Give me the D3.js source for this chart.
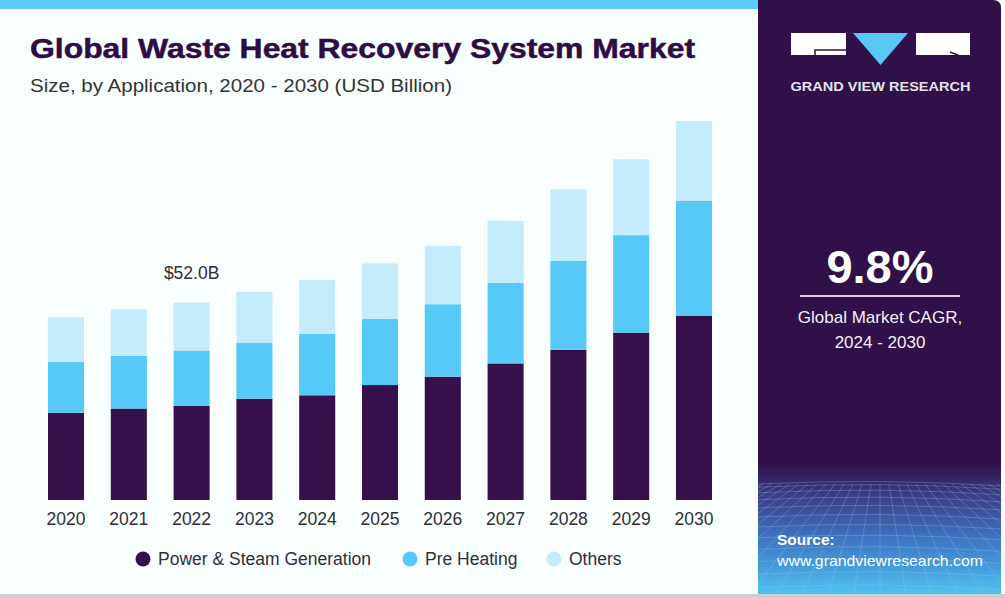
<!DOCTYPE html>
<html>
<head>
<meta charset="utf-8">
<script src="https://cdnjs.cloudflare.com/ajax/libs/d3/7.8.5/d3.min.js"></script>
<style>
  body { margin: 0; background: #fff; }
  text { font-family: "Liberation Sans", Arial, sans-serif; }
</style>
</head>
<body>
<div id="chart"></div>
<script>
var years = ["2020", "2021", "2022", "2023", "2024", "2025", "2026", "2027", "2028", "2029", "2030"];
var power = [23.0, 24.1, 24.8, 26.7, 27.6, 30.3, 32.5, 36.0, 39.6, 44.1, 48.5];
var preHeating = [13.4, 13.9, 14.6, 14.8, 16.2, 17.4, 19.1, 21.2, 23.5, 25.7, 30.4];
var others = [11.8, 12.3, 12.6, 13.4, 14.2, 14.7, 15.4, 16.4, 18.8, 20.0, 21.0];
var seriesNames = ["Power & Steam Generation", "Pre Heating", "Others"];
var seriesColors = ["#36104a", "#57c9f6", "#c4ecfc"];
var callout = {year: "2022", label: "$52.0B"};

var w = 1005,
    h = 598,
    m = [121, 278, 98, 32]; // top right bottom left

var table = years.map(function(y, i) {
  return {year: y, "Power & Steam Generation": power[i], "Pre Heating": preHeating[i], "Others": others[i]};
});
var stack = d3.stack().keys(seriesNames)(table);

var svg = d3.select("#chart").append("svg")
    .attr("width", w)
    .attr("height", h);

// background + frame
svg.append("rect").attr("width", w).attr("height", h).attr("fill", "#f9feff");
svg.append("rect").attr("x", 0).attr("y", 594).attr("width", w).attr("height", 4).attr("fill", "#cfcfcf");
svg.append("rect").attr("x", 0).attr("y", 0).attr("width", 760).attr("height", 9).attr("fill", "#5ccdf6");

var x = d3.scaleBand()
    .domain(years)
    .range([m[3] + 0.3, w - m[1] + 0.7])
    .paddingInner(0.426)
    .paddingOuter(0.25);

var y = d3.scaleLinear()
    .domain([0, 100])
    .range([500, 500 - 379.4]);

var vis = svg.append("g");

vis.selectAll("g.layer")
    .data(stack)
  .enter().append("g")
    .attr("class", "layer")
    .attr("fill", function(d, i) { return seriesColors[i]; })
  .selectAll("rect")
    .data(function(d) { return d; })
  .enter().append("rect")
    .attr("x", function(d) { return x(d.data.year); })
    .attr("y", function(d) { return y(d[1]); })
    .attr("width", x.bandwidth())
    .attr("height", function(d) { return y(d[0]) - y(d[1]); });

var xAxis = vis.append("g")
    .attr("transform", "translate(0,500)")
    .call(d3.axisBottom(x).tickSize(0).tickPadding(10));
xAxis.select(".domain").remove();
xAxis.selectAll("text")
    .attr("font-size", 17.5)
    .attr("fill", "#2f2f36")
    .attr("dy", "0.85em")
    .style("font-family", "'Liberation Sans', Arial, sans-serif");

var ci = years.indexOf(callout.year);
vis.append("text")
    .attr("x", x(callout.year) + x.bandwidth() / 2)
    .attr("y", y(power[ci] + preHeating[ci] + others[ci]) - 24)
    .attr("text-anchor", "middle")
    .attr("font-size", 17.5)
    .attr("fill", "#2f2f36")
    .text(callout.label);

// titles
svg.append("text")
    .attr("x", 30).attr("y", 58)
    .attr("font-size", 27)
    .attr("font-weight", "bold")
    .attr("fill", "#2d0d45")
    .attr("stroke", "#2d0d45")
    .attr("stroke-width", 0.5)
    .attr("textLength", 665)
    .attr("lengthAdjust", "spacingAndGlyphs")
    .text("Global Waste Heat Recovery System Market");

svg.append("text")
    .attr("x", 30).attr("y", 92)
    .attr("font-size", 18)
    .attr("fill", "#333")
    .attr("textLength", 422)
    .attr("lengthAdjust", "spacingAndGlyphs")
    .text("Size, by Application, 2020 - 2030 (USD Billion)");

// legend
var legendX = [143, 410, 554];
var legend = svg.selectAll("g.legend")
    .data(seriesNames)
  .enter().append("g")
    .attr("class", "legend")
    .attr("transform", function(d, i) { return "translate(" + legendX[i] + ",559)"; });
legend.append("circle")
    .attr("r", 7.5)
    .attr("fill", function(d, i) { return seriesColors[i]; });
legend.append("text")
    .attr("x", 15)
    .attr("dy", "0.35em")
    .attr("font-size", 17.5)
    .attr("fill", "#2f2f36")
    .text(function(d) { return d; });

// right panel
var defs = svg.append("defs");
var grad = defs.append("linearGradient")
    .attr("id", "panelGrad").attr("x1", 0).attr("y1", 0).attr("x2", 0).attr("y2", 1);
grad.append("stop").attr("offset", "0").attr("stop-color", "#2f1048");
grad.append("stop").attr("offset", "0.78").attr("stop-color", "#2f1048");
grad.append("stop").attr("offset", "0.83").attr("stop-color", "#3a3a84");
grad.append("stop").attr("offset", "0.92").attr("stop-color", "#3f7fcb");
grad.append("stop").attr("offset", "1").attr("stop-color", "#4ec3f0");
defs.append("clipPath").attr("id", "panelClip")
  .append("path")
    .attr("d", "M758,0 H993 Q1001,0 1001,8 V594 H758 Z");

var panel = svg.append("g").attr("clip-path", "url(#panelClip)");
panel.append("rect")
    .attr("x", 758).attr("y", 0).attr("width", 243).attr("height", 594)
    .attr("fill", "url(#panelGrad)");

// perspective grid in the lower part of the panel
var grid = panel.append("g")
    .attr("stroke", "#a9c8f2")
    .attr("stroke-opacity", 0.35)
    .attr("stroke-width", 0.8)
    .attr("fill", "none");
d3.range(12).forEach(function(k) {
  var yy = 484 + Math.pow(k, 1.45) * 3.2;
  grid.append("path").attr("d", "M758," + yy + " Q880," + (yy - 6) + " 1001," + (yy + 2));
});
d3.range(-14, 15).forEach(function(k) {
  grid.append("path").attr("d", "M" + (880 + k * 9) + ",484 L" + (880 + k * 26) + ",594");
});

// logo
var logo = svg.append("g");
logo.append("rect").attr("x", 791).attr("y", 33).attr("width", 55).attr("height", 22).attr("fill", "#fff");
logo.append("path").attr("d", "M815,56 V50 H846").attr("stroke", "#2f1048").attr("stroke-width", 1.5).attr("fill", "none");
logo.append("path").attr("d", "M853,33 H908 L880.5,65 Z").attr("fill", "#56c8f4");
logo.append("rect").attr("x", 916).attr("y", 33).attr("width", 54).attr("height", 22).attr("fill", "#fff");
logo.append("path").attr("d", "M950,52 L970,60").attr("stroke", "#2f1048").attr("stroke-width", 1.5);
logo.append("text")
    .attr("x", 880.5).attr("y", 91)
    .attr("text-anchor", "middle")
    .attr("font-size", 12.5)
    .attr("font-weight", "bold")
    .attr("fill", "#e6e3ee")
    .attr("textLength", 180)
    .attr("lengthAdjust", "spacingAndGlyphs")
    .text("GRAND VIEW RESEARCH");

svg.append("text")
    .attr("x", 880).attr("y", 283)
    .attr("text-anchor", "middle")
    .attr("font-size", 47)
    .attr("font-weight", "bold")
    .attr("fill", "#fff")
    .text("9.8%");
svg.append("rect").attr("x", 800).attr("y", 295).attr("width", 160).attr("height", 2).attr("fill", "#d9d3e3");
svg.append("text")
    .attr("x", 880).attr("y", 323)
    .attr("text-anchor", "middle")
    .attr("font-size", 17)
    .attr("fill", "#f2f0f6")
    .text("Global Market CAGR,");
svg.append("text")
    .attr("x", 880).attr("y", 348)
    .attr("text-anchor", "middle")
    .attr("font-size", 17)
    .attr("fill", "#f2f0f6")
    .text("2024 - 2030");

svg.append("text")
    .attr("x", 777).attr("y", 545)
    .attr("font-size", 15.5)
    .attr("font-weight", "bold")
    .attr("fill", "#fff")
    .text("Source:");
svg.append("text")
    .attr("x", 777).attr("y", 566)
    .attr("font-size", 15)
    .attr("fill", "#fff")
    .attr("textLength", 206)
    .attr("lengthAdjust", "spacingAndGlyphs")
    .text("www.grandviewresearch.com");
</script>
</body>
</html>
